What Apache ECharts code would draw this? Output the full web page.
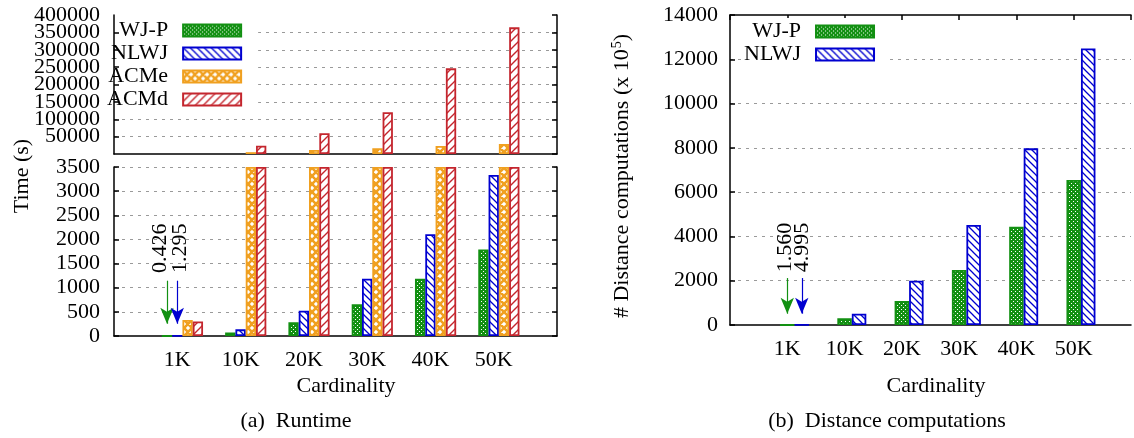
<!DOCTYPE html>
<html>
<head>
<meta charset="utf-8">
<script src="https://cdn.jsdelivr.net/npm/echarts@6/dist/echarts.min.js"></script>
<style>
  html, body { margin: 0; padding: 0; background: #fff; }
  #main { width: 1134px; height: 438px; }
</style>
</head>
<body>
<div id="main"></div>
<script>
// data
var categories = ['1K', '10K', '20K', '30K', '40K', '50K'];
var runtimeWJP  = [0.426, 75, 283, 655, 1185, 1792];
var runtimeNLWJ = [1.295, 138, 523, 1185, 2108, 3335];
var runtimeACMe = [330, 5200, 11800, 16700, 23300, 29000];
var runtimeACMd = [300, 24100, 59800, 120100, 246500, 364400];
var distWJP  = [1.560, 302, 1083, 2483, 4440, 6546];
var distNLWJ = [4.995, 510, 2000, 4515, 7977, 12490];
var breakAt = 3500;

var FONT = 'Liberation Serif';
var GREEN = '#129012', BLUE = '#0000d0', ORANGE = '#f0a020', RED = '#c4262e';

// pattern fills like gnuplot fill patterns
function hatch(color, size, dir, lw) {
    var c = document.createElement('canvas');
    c.width = size; c.height = size;
    var g = c.getContext('2d');
    g.fillStyle = '#fff';
    g.fillRect(0, 0, size, size);
    g.strokeStyle = color;
    g.lineWidth = lw;
    g.beginPath();
    if (dir == '/' || dir == 'x') {
        g.moveTo(-1, size + 1); g.lineTo(size + 1, -1);
        g.moveTo(-2, 2); g.lineTo(2, -2);
        g.moveTo(size - 2, size + 2); g.lineTo(size + 2, size - 2);
    }
    if (dir == '\\' || dir == 'x') {
        g.moveTo(-1, -1); g.lineTo(size + 1, size + 1);
        g.moveTo(size - 2, -2); g.lineTo(size + 2, 2);
        g.moveTo(-2, size - 2); g.lineTo(2, size + 2);
    }
    g.stroke();
    return {image: c, repeat: 'repeat'};
}
function dots(color) {
    var c = document.createElement('canvas');
    c.width = 4; c.height = 4;
    var g = c.getContext('2d');
    g.fillStyle = color;
    g.fillRect(0, 0, 4, 4);
    g.fillStyle = '#fff';
    g.fillRect(1, 1, 1, 1);
    g.fillRect(3, 3, 1, 1);
    return {image: c, repeat: 'repeat'};
}

var fills = {
    'WJ-P': [dots(GREEN), GREEN],
    'NLWJ': [hatch(BLUE, 7, '\\', 1.3), BLUE],
    'ACMe': [hatch(ORANGE, 8, 'x', 2.6), ORANGE],
    'ACMd': [hatch(RED, 8, '/', 1.4), RED]
};

var padded = [''].concat(categories, ['']);
function pad(arr) { return ['-'].concat(arr, ['-']); }
var idx1K = padded.indexOf('1K');

function bar(name, data, xi, yi, bw) {
    return {
        type: 'bar', name: name, data: data,
        xAxisIndex: xi, yAxisIndex: yi,
        barWidth: bw, barGap: '0%',
        itemStyle: {color: fills[name][0], borderColor: fills[name][1], borderWidth: 1.8},
        emphasis: {disabled: true},
        animation: false
    };
}
function gap(xi, yi, bw) {
    return {type: 'bar', name: 'gap', data: pad(categories.map(function () { return '-'; })),
        xAxisIndex: xi, yAxisIndex: yi, barWidth: bw, barGap: '0%', silent: true,
        itemStyle: {color: 'transparent'}, animation: false};
}
// arrow + rotated value text pointing at a tiny bar
function note(s, color, from, to, textAt, value, dx) {
    s.markLine = {
        silent: true, animation: false,
        label: {show: false},
        lineStyle: {color: color, width: 1.2, type: 'solid', opacity: 1},
        data: [[{coord: [idx1K, from], symbol: 'none', lineStyle: {color: color}},
                {coord: [idx1K, to], symbol: 'arrow', symbolSize: [10, 16]}]]
    };
    s.markPoint = {
        silent: true, animation: false,
        symbol: 'rect', symbolSize: 1, symbolOffset: [dx, 0],
        itemStyle: {color: 'transparent'},
        label: {show: true, position: 'inside', rotate: 90, color: '#000',
            fontFamily: FONT, fontSize: 22, formatter: value.toFixed(3)},
        data: [{coord: [idx1K, textAt]}]
    };
    return s;
}

function plain(v) { return String(v); }
var tickLabel = {color: '#000', fontFamily: FONT, fontSize: 22, formatter: plain,
    showMaxLabel: true, hideOverlap: false};
var black = {color: '#000', width: 1.5};
var dashed = {color: '#9a9a9a', width: 1, type: [3, 5]};
var inTick = {show: true, inside: true, length: 5, lineStyle: black};

var leftBW = 10.3, rightBW = 14.5;

var series = [
    gap(0, 0, leftBW),
    bar('WJ-P', pad(runtimeWJP.map(function () { return '-'; })), 0, 0, leftBW),
    bar('NLWJ', pad(runtimeNLWJ.map(function () { return '-'; })), 0, 0, leftBW),
    bar('ACMe', pad(runtimeACMe.map(function (v) { return v > breakAt ? v : '-'; })), 0, 0, leftBW),
    bar('ACMd', pad(runtimeACMd.map(function (v) { return v > breakAt ? v : '-'; })), 0, 0, leftBW),
    gap(1, 2, leftBW),
    note(bar('WJ-P', pad(runtimeWJP), 1, 2, leftBW), GREEN, 1145, 254, 1819, runtimeWJP[0], -7),
    note(bar('NLWJ', pad(runtimeNLWJ), 1, 2, leftBW), BLUE, 1145, 254, 1819, runtimeNLWJ[0], 3),
    bar('ACMe', pad(runtimeACMe.map(function (v) { return Math.min(v, breakAt); })), 1, 2, leftBW),
    bar('ACMd', pad(runtimeACMd.map(function (v) { return Math.min(v, breakAt); })), 1, 2, leftBW),
    gap(2, 4, rightBW),
    note(bar('WJ-P', pad(distWJP), 2, 4, rightBW), GREEN, 2120, 510, 3500, distWJP[0], -2),
    note(bar('NLWJ', pad(distNLWJ), 2, 4, rightBW), BLUE, 2120, 510, 3500, distNLWJ[0], 0)
];

var legendText = {color: '#000', fontFamily: FONT, fontSize: 22, lineHeight: 23, padding: [0, 10, 0, 0]};

var option = {
    backgroundColor: '#fff',
    animation: false,
    grid: [
        {left: 114, top: 15, width: 443, height: 139},
        {left: 114, top: 167, width: 443, height: 169},
        {left: 730, top: 15, width: 405, height: 310}
    ],
    xAxis: [
        {type: 'category', gridIndex: 0, data: padded, boundaryGap: false, position: 'top',
            axisLine: {lineStyle: black}, axisTick: {show: false}, axisLabel: {show: false}},
        {type: 'category', gridIndex: 1, data: padded, boundaryGap: false,
            axisLine: {lineStyle: black}, axisTick: {show: false},
            axisLabel: {interval: 0, margin: 13, color: '#000', fontFamily: FONT, fontSize: 22}},
        {type: 'category', gridIndex: 2, data: padded, boundaryGap: false,
            axisLine: {lineStyle: black}, axisTick: {show: false},
            axisLabel: {interval: 0, margin: 13, color: '#000', fontFamily: FONT, fontSize: 22}},
        {type: 'category', gridIndex: 2, data: padded, boundaryGap: false, position: 'top',
            axisLine: {lineStyle: black},
            axisTick: {show: true, inside: true, length: 5, interval: 0, lineStyle: black},
            axisLabel: {show: false}}
    ],
    yAxis: [
        // upper panel: dashed grid only (sits under the opaque key)
        {type: 'value', gridIndex: 0, min: 0, max: 400000, interval: 50000, z: 0,
            axisLine: {show: false}, axisTick: {show: false}, axisLabel: {show: false},
            splitLine: {show: true, showMinLine: false, showMaxLine: false, lineStyle: dashed}},
        {type: 'value', gridIndex: 0, min: 0, max: 400000, interval: 50000, position: 'right', z: 2,
            axisLine: {show: true, lineStyle: black}, axisTick: inTick,
            axisLabel: {show: false}, splitLine: {show: false}},
        {type: 'value', gridIndex: 1, min: 0, max: 3500, interval: 500,
            axisLine: {show: true, lineStyle: black}, axisTick: inTick,
            axisLabel: Object.assign({margin: 14, showMinLabel: true}, tickLabel),
            splitLine: {show: true, showMinLine: false, showMaxLine: true, lineStyle: dashed}},
        {type: 'value', gridIndex: 1, min: 0, max: 3500, interval: 500, position: 'right',
            axisLine: {show: true, lineStyle: black}, axisTick: inTick,
            axisLabel: {show: false}, splitLine: {show: false}},
        {type: 'value', gridIndex: 2, min: 0, max: 14000, interval: 2000,
            axisLine: {show: true, lineStyle: black}, axisTick: inTick,
            axisLabel: Object.assign({margin: 12, showMinLabel: true}, tickLabel),
            splitLine: {show: true, showMinLine: false, showMaxLine: false, lineStyle: dashed}},
        // upper panel: left axis line, ticks and labels drawn above the key
        {type: 'value', gridIndex: 0, min: 0, max: 400000, interval: 50000, position: 'left', z: 2,
            axisLine: {show: true, lineStyle: black}, axisTick: inTick,
            axisLabel: Object.assign({}, tickLabel, {margin: 14, showMinLabel: false, showMaxLabel: false}),
            splitLine: {show: false}},
        // only carries the top "400000" label of the upper panel
        {type: 'value', gridIndex: 0, min: 0, max: 400000, interval: 400000, position: 'left', z: 2,
            axisLine: {show: false}, axisTick: {show: false},
            axisLabel: Object.assign({}, tickLabel, {margin: 14, showMinLabel: false, showMaxLabel: true}),
            splitLine: {show: false}}
    ],
    legend: [
        {data: ['WJ-P', 'NLWJ', 'ACMe', 'ACMd'], orient: 'vertical', align: 'right',
            left: 107, top: 17, padding: [2, 16, 2, 0], backgroundColor: '#fff', z: 1,
            itemGap: 0, itemWidth: 58, itemHeight: 12,
            icon: 'rect', selectedMode: false, textStyle: legendText},
        {data: ['WJ-P', 'NLWJ'], orient: 'vertical', align: 'right',
            left: 744, top: 18, padding: [2, 13, 2, 0], backgroundColor: '#fff', z: 1,
            itemGap: 0, itemWidth: 58, itemHeight: 12,
            icon: 'rect', selectedMode: false, textStyle: legendText}
    ],
    graphic: [
        {type: 'text', x: 22, y: 176, rotation: Math.PI / 2,
            style: {text: 'Time (s)', fill: '#000', font: '22px "Liberation Serif"', align: 'center', verticalAlign: 'middle'}},
        {type: 'text', x: 622, y: 176, rotation: Math.PI / 2,
            style: {text: '# Distance computations (x 10{sup|5})', fill: '#000', fontFamily: FONT, fontSize: 22,
                align: 'center', verticalAlign: 'middle', lineHeight: 24,
                rich: {sup: {fontFamily: FONT, fontSize: 14, lineHeight: 24, verticalAlign: 'top', padding: [0, 0, 0, 1]}}}},
        {type: 'text', x: 346, y: 386,
            style: {text: 'Cardinality', fill: '#000', font: '22px "Liberation Serif"', align: 'center', verticalAlign: 'middle'}},
        {type: 'text', x: 936, y: 386,
            style: {text: 'Cardinality', fill: '#000', font: '22px "Liberation Serif"', align: 'center', verticalAlign: 'middle'}},
        {type: 'text', x: 296, y: 421,
            style: {text: '(a)  Runtime', fill: '#000', font: '22px "Liberation Serif"', align: 'center', verticalAlign: 'middle'}},
        {type: 'text', x: 887, y: 421,
            style: {text: '(b)  Distance computations', fill: '#000', font: '22px "Liberation Serif"', align: 'center', verticalAlign: 'middle'}}
    ],
    series: series
};

var chart = echarts.init(document.getElementById('main'), null, {renderer: 'canvas'});
chart.setOption(option);
</script>
</body>
</html>
